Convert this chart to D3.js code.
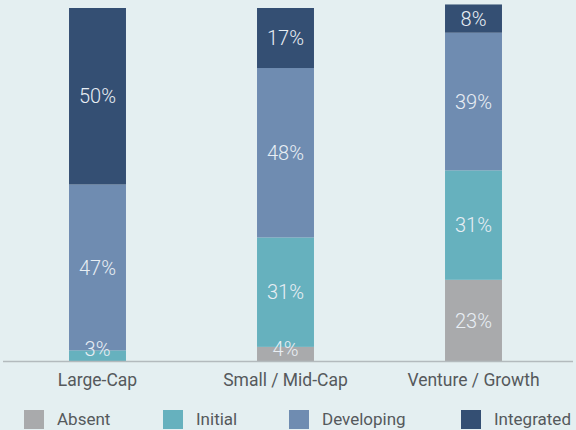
<!DOCTYPE html>
<html lang="en">
<head>
    <meta charset="UTF-8">
    <title>Stacked bars</title>
    <script src="https://d3js.org/d3.v7.min.js"></script>
    <style>
        body { margin: 0; background: #e4eff1; }
    </style>
</head>
<body>
    <div id="my_dataviz"></div>

    <script>
        // data (percent)
        var categories = ["Large-Cap", "Small / Mid-Cap", "Venture / Growth"];
        var series = ["Absent", "Initial", "Developing", "Integrated"];
        var absent = [0, 4, 23];
        var initial = [3, 31, 31];
        var developing = [47, 48, 39];
        var integrated = [50, 17, 8];
        var colors = ["#a9aaac", "#66b1be", "#6f8cb1", "#344f73"];

        var width = 576, height = 430;
        var baseline = 361;

        var svg = d3.select("#my_dataviz")
            .append("svg")
            .attr("width", width)
            .attr("height", height);

        svg.append("rect")
            .attr("width", width).attr("height", height)
            .attr("fill", "#e4eff1");

        var x = d3.scaleBand()
            .domain(categories)
            .range([3.5, 567.5])
            .paddingInner(0.697)
            .paddingOuter(0.3485);

        var y = d3.scaleLinear()
            .domain([0, 100])
            .range([baseline, 8]);

        // build rows for the stack
        var rows = categories.map(function(c, i) {
            return {cat: c, Absent: absent[i], Initial: initial[i], Developing: developing[i], Integrated: integrated[i]};
        });
        var stacked = d3.stack().keys(series)(rows);

        var color = d3.scaleOrdinal().domain(series).range(colors);

        function nonEmpty(d) { return d.filter(function(p) { return p[1] - p[0] > 0; }); }

        svg.append("g")
            .selectAll("g")
            .data(stacked)
            .enter().append("g")
            .attr("fill", function(d) { return color(d.key); })
            .selectAll("rect")
            .data(nonEmpty)
            .enter().append("rect")
            .attr("x", function(d) { return x(d.data.cat); })
            .attr("y", function(d) { return y(d[1]); })
            .attr("width", x.bandwidth())
            .attr("height", function(d) { return y(d[0]) - y(d[1]); });

        // value labels, drawn on top of all the bars
        svg.append("g")
            .selectAll("g")
            .data(stacked)
            .enter().append("g")
            .selectAll("text")
            .data(nonEmpty)
            .enter().append("text")
            .attr("x", function(d) { return x(d.data.cat) + x.bandwidth() / 2; })
            .attr("y", function(d) {
                var mid = (y(d[0]) + y(d[1])) / 2;
                return Math.min(mid, baseline - 12);
            })
            .attr("dy", "0.36em")
            .attr("text-anchor", "middle")
            .style("font-family", "Roboto, sans-serif")
            .style("font-weight", 300)
            .style("font-size", "20px")
            .style("fill", "#e8eef4")
            .text(function(d) { return (d[1] - d[0]) + "%"; });

        // baseline
        svg.append("line")
            .attr("x1", 3).attr("x2", 573)
            .attr("y1", baseline + 0.5).attr("y2", baseline + 0.5)
            .attr("stroke", "#b3babd")
            .attr("stroke-width", 1.5);

        // category labels
        svg.append("g")
            .selectAll("text")
            .data(categories)
            .enter().append("text")
            .attr("x", function(d) { return x(d) + x.bandwidth() / 2; })
            .attr("y", 386)
            .attr("text-anchor", "middle")
            .style("font-family", "Roboto, sans-serif")
            .style("font-size", "17.5px")
            .style("fill", "#55595c")
            .text(function(d) { return d; });

        // legend
        var legendX = [24, 163, 289, 461];
        var legend = svg.append("g")
            .selectAll("g")
            .data(series)
            .enter().append("g")
            .attr("transform", function(d, i) { return "translate(" + legendX[i] + ",410)"; });
        legend.append("rect")
            .attr("width", 20).attr("height", 19)
            .attr("fill", function(d) { return color(d); });
        legend.append("text")
            .attr("x", 33)
            .attr("y", 15)
            .style("font-family", "Roboto, sans-serif")
            .style("font-size", "17px")
            .style("fill", "#55595c")
            .text(function(d) { return d; });
    </script>
</body>
</html>
